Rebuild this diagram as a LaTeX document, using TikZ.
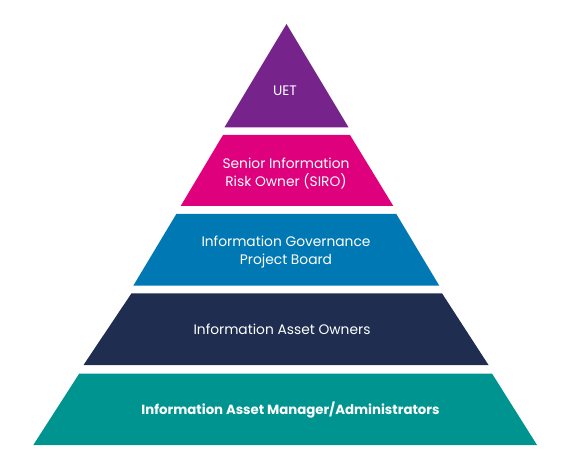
\documentclass[tikz,border=0pt]{standalone}
\usepackage{fontspec}
\setmainfont{Poppins}
\definecolor{cuet}{RGB}{118,35,140}
\definecolor{csiro}{RGB}{222,0,124}
\definecolor{cig}{RGB}{0,120,180}
\definecolor{ciao}{RGB}{30,45,80}
\definecolor{ciam}{RGB}{0,148,145}
\begin{document}
\begin{tikzpicture}[x=1bp,y=-1bp,
  lbl/.style={text=white, align=center, inner sep=0pt, font=\fontsize{13.8bp}{18bp}\selectfont},
  lblb/.style={lbl, font=\fontsize{13.3bp}{18bp}\selectfont\bfseries}]
\useasboundingbox (0,0) rectangle (573,474);
\fill[cuet] (286.5,24) -- (348.5,127.3) -- (224.5,127.3) -- cycle;
\fill[csiro] (223,135) -- (350,135) -- (393.3,206) -- (180.7,206) -- cycle;
\fill[cig] (176.3,214) -- (396.3,214) -- (439.3,285.7) -- (133.3,285.7) -- cycle;
\fill[ciao] (131.5,293.3) -- (442,293.3) -- (488.5,365) -- (83.5,365) -- cycle;
\fill[ciam] (79.3,373.5) -- (492,373.5) -- (537,445) -- (33.3,445) -- cycle;
\node[lbl] (uet) at (285,91) {UET};
\node[lbl] (siro) at (286,173.5) {Senior Information\\Risk Owner (SIRO)};
\node[lbl] (ig) at (286,252.5) {Information Governance\\Project Board};
\node[lbl] (iao) at (282,329) {Information Asset Owners};
\node[lblb] (iam) at (290.5,410.5) {Information Asset Manager/Administrators};
\end{tikzpicture}
\end{document}
